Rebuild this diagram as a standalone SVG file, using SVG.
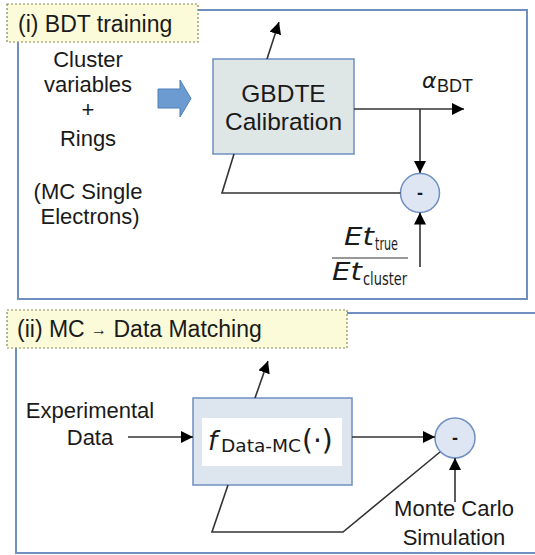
<svg xmlns="http://www.w3.org/2000/svg" width="535" height="555" viewBox="0 0 535 555">
<style>
.panel{fill:none;stroke:#6f8fc0;stroke-width:2}
.lbl{fill:#fbfbd9;stroke:#8a8a55;stroke-width:1.2;stroke-dasharray:2 2}
.t{font-family:"Liberation Sans",Arial,sans-serif;fill:#1a1a1a}
.m{font-family:"DejaVu Sans","Liberation Sans",sans-serif;fill:#1a1a1a}
.ln{fill:none;stroke:#333;stroke-width:1.6}
.circ{fill:#dde6f2;stroke:#6f8fc0;stroke-width:1.5}
</style>
<defs>
<marker id="ah" viewBox="0 0 10 10" refX="10" refY="5" markerWidth="12" markerHeight="12" markerUnits="userSpaceOnUse" orient="auto">
<path d="M0,0 L10,5 L0,10 z" fill="#000"/>
</marker>
</defs>
<g id="panel1">
<rect class="panel" x="18" y="10" width="509" height="289"/>
<rect class="lbl" x="7" y="4" width="191" height="38"/>
<text class="t" x="18" y="32" font-size="23">(i) BDT training</text>
</g>
<g id="inputs1" class="t" font-size="22" text-anchor="middle">
<text x="88" y="67">Cluster</text>
<text x="88" y="92">variables</text>
<text x="88" y="117">+</text>
<text x="88" y="146">Rings</text>
<text x="88" y="199">(MC Single</text>
<text x="90" y="224">Electrons)</text>
</g>
<g id="bigarrow">
<path d="M158,89 L180,89 L180,80 L191,98.5 L180,117 L180,108 L158,108 z" fill="#6b9bd0" stroke="#4f7fb6" stroke-width="1"/>
</g>
<g id="gbdte">
<rect x="213" y="59" width="141" height="95" fill="#dfe6e6" stroke="#6f8fc0" stroke-width="1.5"/>
<text class="t" x="283.5" y="102" font-size="24.5" text-anchor="middle">GBDTE</text>
<text class="t" x="283.5" y="130" font-size="24.5" text-anchor="middle">Calibration</text>
</g>
<g id="sub1">
<circle class="circ" cx="420" cy="193" r="19.5"/>
<text class="t" x="420" y="199" font-size="18" text-anchor="middle" font-weight="bold">-</text>
</g>
<g id="alpha">
<text class="m" x="422" y="88" font-size="22" font-style="italic">α</text>
<text class="t" x="437" y="92" font-size="18">BDT</text>
</g>
<g id="ratio">
<text class="m" x="344" y="245" font-size="25" font-style="italic" textLength="30" lengthAdjust="spacingAndGlyphs">Et</text>
<text class="m" x="375" y="250" font-size="17" textLength="23" lengthAdjust="spacingAndGlyphs">true</text>
<line x1="332" y1="258" x2="408" y2="258" stroke="#333" stroke-width="1.2"/>
<text class="m" x="332" y="280" font-size="25" font-style="italic" textLength="30" lengthAdjust="spacingAndGlyphs">Et</text>
<text class="m" x="363" y="285" font-size="17" textLength="44" lengthAdjust="spacingAndGlyphs">cluster</text>
</g>
<g id="panel2">
<path class="panel" d="M540,313 L16,313 L16,553 L540,553"/>
<rect class="lbl" x="7" y="310" width="340" height="38"/>
<text class="t" x="17" y="337" font-size="23">(ii) MC <tspan font-size="16" dy="-2">→</tspan><tspan dy="2"> Data Matching</tspan></text>
</g>
<g id="inputs2" class="t" font-size="22" text-anchor="middle">
<text x="90" y="418">Experimental</text>
<text x="90" y="445">Data</text>
</g>
<g id="fbox">
<rect x="193" y="398" width="159" height="87" fill="#dde5ee" stroke="#6f8fc0" stroke-width="1.5"/>
<rect x="202" y="418" width="140" height="48" fill="#fff"/>
<text class="m" x="208" y="450" font-size="26" font-style="italic">f</text>
<text class="m" x="221" y="452" font-size="18" textLength="80" lengthAdjust="spacingAndGlyphs">Data-MC</text>
<text class="m" x="302" y="450" font-size="28">(·)</text>
</g>
<g id="sub2">
<circle class="circ" cx="455" cy="438" r="20"/>
<text class="t" x="455" y="444" font-size="18" text-anchor="middle" font-weight="bold">-</text>
</g>
<g id="mc" class="t" font-size="22" text-anchor="middle">
<text x="454" y="516">Monte Carlo</text>
<text x="454" y="545">Simulation</text>
</g>
<g id="connectors">
<line class="ln" x1="267" y1="59" x2="279" y2="22" marker-end="url(#ah)"/>
<line class="ln" x1="354" y1="109" x2="464" y2="109" marker-end="url(#ah)"/>
<line class="ln" x1="420" y1="109" x2="420" y2="173" marker-end="url(#ah)"/>
<polyline class="ln" points="400.5,193 222,193 234,154"/>
<line class="ln" x1="420" y1="267" x2="420" y2="212.5" marker-end="url(#ah)"/>
<line class="ln" x1="255" y1="398" x2="268" y2="361" marker-end="url(#ah)"/>
<line class="ln" x1="128" y1="437" x2="193" y2="437" marker-end="url(#ah)"/>
<line class="ln" x1="352" y1="437" x2="435" y2="437" marker-end="url(#ah)"/>
<polyline class="ln" points="440,452 343,532 212,532 228,485"/>
<line class="ln" x1="455" y1="502" x2="455" y2="458" marker-end="url(#ah)"/>
</g>
</svg>
